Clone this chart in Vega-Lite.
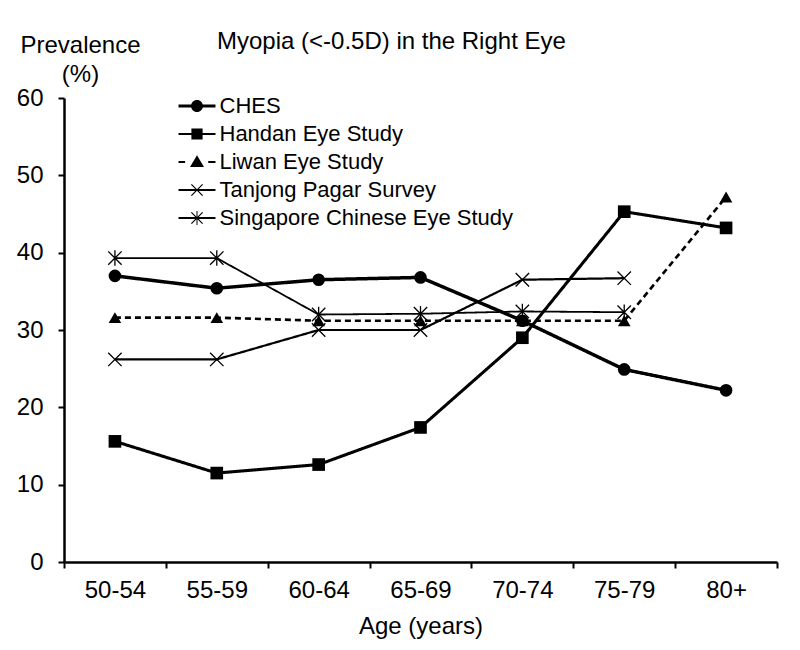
{
  "$schema": "https://vega.github.io/schema/vega-lite/v6.json",
  "width": 713,
  "height": 464,
  "autosize": {"type": "none"},
  "padding": {"left": 64, "top": 98, "right": 23, "bottom": 88},
  "background": "white",
  "config": {
    "font": "Liberation Sans",
    "view": {"stroke": null},
    "axis": {"domainColor": "black", "tickColor": "black", "labelColor": "black", "titleColor": "black", "grid": false}
  },
  "title": {
    "text": "Myopia (<-0.5D) in the Right Eye",
    "anchor": "start",
    "frame": "group",
    "dx": 153,
    "dy": 31,
    "fontSize": 24,
    "fontWeight": "normal",
    "font": "Liberation Sans",
    "color": "black",
    "offset": 10
  },
  "data": {
    "values": [
      {"age": "50-54", "series": "CHES", "value": 37.0},
      {"age": "55-59", "series": "CHES", "value": 35.4},
      {"age": "60-64", "series": "CHES", "value": 36.5},
      {"age": "65-69", "series": "CHES", "value": 36.8},
      {"age": "70-74", "series": "CHES", "value": 31.2},
      {"age": "75-79", "series": "CHES", "value": 24.9},
      {"age": "80+", "series": "CHES", "value": 22.2},
      {"age": "50-54", "series": "Handan Eye Study", "value": 15.6},
      {"age": "55-59", "series": "Handan Eye Study", "value": 11.5},
      {"age": "60-64", "series": "Handan Eye Study", "value": 12.6},
      {"age": "65-69", "series": "Handan Eye Study", "value": 17.4},
      {"age": "70-74", "series": "Handan Eye Study", "value": 29.0},
      {"age": "75-79", "series": "Handan Eye Study", "value": 45.3},
      {"age": "80+", "series": "Handan Eye Study", "value": 43.2},
      {"age": "50-54", "series": "Liwan Eye Study", "value": 31.6},
      {"age": "55-59", "series": "Liwan Eye Study", "value": 31.6},
      {"age": "60-64", "series": "Liwan Eye Study", "value": 31.2},
      {"age": "65-69", "series": "Liwan Eye Study", "value": 31.2},
      {"age": "70-74", "series": "Liwan Eye Study", "value": 31.2},
      {"age": "75-79", "series": "Liwan Eye Study", "value": 31.2},
      {"age": "80+", "series": "Liwan Eye Study", "value": 47.2},
      {"age": "50-54", "series": "Tanjong Pagar Survey", "value": 26.2},
      {"age": "55-59", "series": "Tanjong Pagar Survey", "value": 26.2},
      {"age": "60-64", "series": "Tanjong Pagar Survey", "value": 30.0},
      {"age": "65-69", "series": "Tanjong Pagar Survey", "value": 30.0},
      {"age": "70-74", "series": "Tanjong Pagar Survey", "value": 36.5},
      {"age": "75-79", "series": "Tanjong Pagar Survey", "value": 36.7},
      {"age": "50-54", "series": "Singapore Chinese Eye Study", "value": 39.3},
      {"age": "55-59", "series": "Singapore Chinese Eye Study", "value": 39.3},
      {"age": "60-64", "series": "Singapore Chinese Eye Study", "value": 32.0},
      {"age": "65-69", "series": "Singapore Chinese Eye Study", "value": 32.1},
      {"age": "70-74", "series": "Singapore Chinese Eye Study", "value": 32.4},
      {"age": "75-79", "series": "Singapore Chinese Eye Study", "value": 32.3}
    ]
  },
  "encoding": {
    "x": {
      "field": "age",
      "type": "nominal",
      "sort": ["50-54", "55-59", "60-64", "65-69", "70-74", "75-79", "80+"],
      "scale": {"type": "band", "paddingInner": 0, "paddingOuter": 0},
      "axis": {
        "title": "Age (years)",
        "titleFontSize": 24,
        "titleFontWeight": "normal",
        "titlePadding": 12,
        "labelFontSize": 24,
        "labelAngle": 0,
        "labelPadding": 10,
        "tickBand": "extent",
        "tickSize": 6,
        "tickWidth": 2,
        "domainWidth": 2.5
      }
    },
    "y": {
      "field": "value",
      "type": "quantitative",
      "scale": {"domain": [0, 60], "nice": false},
      "axis": {
        "values": [0, 10, 20, 30, 40, 50, 60],
        "title": ["Prevalence", "(%)"],
        "titleAngle": 0,
        "titleAlign": "center",
        "titleBaseline": "alphabetic",
        "titleX": 16,
        "titleY": -46,
        "titleLineHeight": 29,
        "titleFontSize": 24,
        "titleFontWeight": "normal",
        "labelFontSize": 24,
        "labelPadding": 15,
        "tickSize": 6,
        "tickWidth": 2,
        "domainWidth": 2.5
      }
    }
  },
  "resolve": {"scale": {"shape": "independent"}, "legend": {"shape": "independent"}},
  "layer": [
    {
      "mark": {"type": "line", "color": "black"},
      "encoding": {
        "strokeDash": {
          "field": "series",
          "type": "nominal",
          "scale": {
            "domain": ["CHES", "Handan Eye Study", "Liwan Eye Study", "Tanjong Pagar Survey", "Singapore Chinese Eye Study"],
            "range": [[1, 0], [1, 0], [6, 4], [1, 0], [1, 0]]
          },
          "legend": null
        },
        "strokeWidth": {
          "field": "series",
          "type": "nominal",
          "scale": {
            "domain": ["CHES", "Handan Eye Study", "Liwan Eye Study", "Tanjong Pagar Survey", "Singapore Chinese Eye Study"],
            "range": [3.5, 1.8, 2, 1.5, 1.5]
          },
          "legend": null
        }
      }
    },
    {
      "layer": [
        {
          "transform": [{"filter": {"field": "series", "oneOf": ["CHES", "Handan Eye Study", "Liwan Eye Study"]}}],
          "mark": {"type": "point", "filled": true, "color": "black", "opacity": 1, "size": 160},
          "encoding": {
            "shape": {
              "field": "series",
              "type": "nominal",
              "scale": {
                "domain": ["CHES", "Handan Eye Study", "Liwan Eye Study", "Tanjong Pagar Survey", "Singapore Chinese Eye Study"],
                "range": ["circle", "square", "triangle-up", "M-1,-1L1,1M-1,1L1,-1", "M-1,-1L1,1M-1,1L1,-1M0,-1.15L0,1.15"]
              },
              "legend": null
            }
          }
        },
        {
          "transform": [{"filter": {"field": "series", "oneOf": ["Tanjong Pagar Survey", "Singapore Chinese Eye Study"]}}],
          "mark": {"type": "point", "filled": false, "color": "black", "opacity": 1, "size": 180, "strokeWidth": 1.3},
          "encoding": {
            "shape": {
              "field": "series",
              "type": "nominal",
              "scale": {
                "domain": ["CHES", "Handan Eye Study", "Liwan Eye Study", "Tanjong Pagar Survey", "Singapore Chinese Eye Study"],
                "range": ["circle", "square", "triangle-up", "M-1,-1L1,1M-1,1L1,-1", "M-1,-1L1,1M-1,1L1,-1M0,-1.15L0,1.15"]
              },
              "legend": null
            }
          }
        }
      ]
    },
    {
      "mark": {"type": "point", "filled": true, "color": "black", "opacity": 0, "size": 196},
      "encoding": {
        "shape": {
          "field": "series",
          "type": "nominal",
          "scale": {
            "domain": ["CHES", "Handan Eye Study", "Liwan Eye Study", "Tanjong Pagar Survey", "Singapore Chinese Eye Study"],
            "range": [
              "M-2.64,-0.2L2.64,-0.2L2.64,0.2L-2.64,0.2ZM0.86,0A0.86,0.86,0,1,1,-0.86,0A0.86,0.86,0,1,1,0.86,0Z",
              "M-2.64,-0.14L2.64,-0.14L2.64,0.14L-2.64,0.14ZM-0.8,-0.8L0.8,-0.8L0.8,0.8L-0.8,0.8Z",
              "M-2.64,-0.14L-1.7,-0.14L-1.7,0.14L-2.64,0.14ZM1.6,-0.14L2.64,-0.14L2.64,0.14L1.6,0.14ZM0,-0.95L1.0,0.7L-1.0,0.7Z",
              "M-2.64,-0.14L2.64,-0.14L2.64,0.14L-2.64,0.14ZM-0.74,-0.86L0.86,0.74L0.74,0.86L-0.86,-0.74ZM-0.86,0.74L0.74,-0.86L0.86,-0.74L-0.74,0.86Z",
              "M-2.64,-0.14L2.64,-0.14L2.64,0.14L-2.64,0.14ZM-0.74,-0.86L0.86,0.74L0.74,0.86L-0.86,-0.74ZM-0.86,0.74L0.74,-0.86L0.86,-0.74L-0.74,0.86ZM-0.07,-1L0.07,-1L0.07,1L-0.07,1Z"
            ]
          },
          "legend": {
            "title": null,
            "orient": "none",
            "legendX": 122,
            "legendY": -3,
            "padding": 0,
            "labelFontSize": 22,
            "labelColor": "black",
            "labelLimit": 500,
            "labelOffset": 11.5,
            "rowPadding": 6,
            "symbolSize": 196,
            "symbolOpacity": 1
          }
        }
      }
    }
  ]
}
